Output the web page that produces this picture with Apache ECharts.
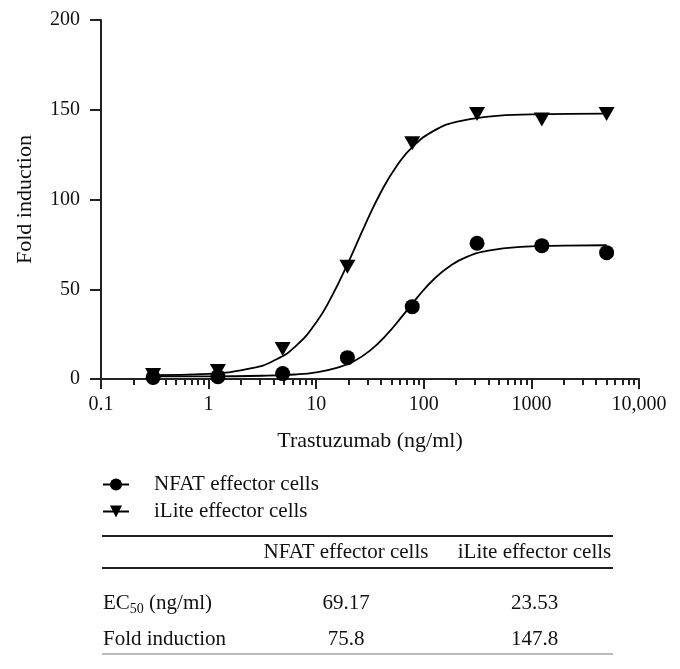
<!DOCTYPE html>
<html><head><meta charset="utf-8">
<script src="https://cdn.jsdelivr.net/npm/echarts@6/dist/echarts.min.js"></script>
<style>html,body{margin:0;padding:0;background:#fff}#chart{width:680px;height:669px}</style>
</head><body><div id="chart"></div>
<script>
// ---- data ----
const doseValues = [0.305, 1.22, 4.88, 19.5, 78.1, 312.5, 1250, 5000];
const nfatValues = [0.9, 1.3, 3.0, 11.9, 40.3, 75.6, 74.3, 70.4];
const iliteValues = [2.2, 4.5, 16.7, 62.6, 131.3, 147.6, 144.5, 147.6];

// fitted curves
const nfatCurveX = [0.3, 1, 3.16, 6.31, 10, 15.8, 22.4, 31.6, 44.7, 63.1, 89.1, 126, 178, 251, 398, 794, 2000, 5000];
const nfatCurveY = [1.5, 1.5, 1.8, 2.5, 3.7, 6.3, 9.9, 15.8, 24.4, 35.0, 46.2, 56.0, 63.2, 68.0, 71.5, 73.6, 74.3, 74.5];
const iliteCurveX = [0.3, 1, 2.51, 3.98, 6.31, 10, 14.1, 20, 28.2, 39.8, 56.2, 79.4, 126, 200, 398, 1000, 5000];
const iliteCurveY = [2.15, 2.9, 6.0, 10.0, 17.8, 31.5, 46.6, 65.3, 85.3, 103.9, 118.8, 129.6, 138.5, 143.2, 146.2, 147.4, 147.8];

const seriesNames = ['NFAT effector cells', 'iLite effector cells'];
const xMajorTicks = [0.1, 1, 10, 100, 1000, 10000];
const xTickLabels = ['0.1', '1', '10', '100', '1000', '10,000'];
const xMinorTicks = [0.2,0.3,0.4,0.5,0.6,0.7,0.8,0.9, 2,3,4,5,6,7,8,9, 20,30,40,50,60,70,80,90,
  200,300,400,500,600,700,800,900, 2000,3000,4000,5000,6000,7000,8000,9000];
const yMin = 0, yMax = 200, yStep = 50;

const tableHeaders = ['NFAT effector cells', 'iLite effector cells'];
const tableRowLabels = ['{n|EC}{s|50}{n| (ng/ml)}', 'Fold induction'];
const tableNfat = ['69.17', '75.8'];
const tableIlite = ['23.53', '147.8'];

// ---- chart ----
const FONT = '"Liberation Serif", "Times New Roman", serif';
const INK = '#111';
const TRI = 'path://M0,0L16,0L8,14Z';

const zip = (xs, ys) => xs.map((x, i) => [x, ys[i]]);

const chart = echarts.init(document.getElementById('chart'));

const tableTop = 536, tableMid = 568, tableBottom = 654, tableLeft = 102, tableRight = 613;
const colNfat = 346, colIlite = 534.5, colLabel = 103;
const headerY = 552.5, rowYs = [603, 639];

const graphics = [
  { type: 'line', shape: { x1: tableLeft, y1: tableTop, x2: tableRight, y2: tableTop }, style: { stroke: '#222', lineWidth: 2 } },
  { type: 'line', shape: { x1: tableLeft, y1: tableMid, x2: tableRight, y2: tableMid }, style: { stroke: '#222', lineWidth: 2 } },
  { type: 'line', shape: { x1: tableLeft, y1: tableBottom, x2: tableRight, y2: tableBottom }, style: { stroke: '#777', lineWidth: 1 } },
  { type: 'text', x: colNfat, y: headerY, style: { text: tableHeaders[0], fontFamily: FONT, fontSize: 21, fill: INK, align: 'center', verticalAlign: 'middle' } },
  { type: 'text', x: colIlite, y: headerY, style: { text: tableHeaders[1], fontFamily: FONT, fontSize: 21, fill: INK, align: 'center', verticalAlign: 'middle' } }
];
tableRowLabels.forEach((lab, i) => {
  graphics.push({ type: 'text', x: colLabel, y: rowYs[i], style: {
    text: lab, fontFamily: FONT, fontSize: 21, fill: INK, align: 'left', verticalAlign: 'middle',
    rich: { n: { fontFamily: FONT, fontSize: 21, fill: INK }, s: { fontFamily: FONT, fontSize: 14, fill: INK, padding: [12, 0, 0, 0] } }
  } });
  graphics.push({ type: 'text', x: colNfat, y: rowYs[i], style: { text: tableNfat[i], fontFamily: FONT, fontSize: 21, fill: INK, align: 'center', verticalAlign: 'middle' } });
  graphics.push({ type: 'text', x: colIlite, y: rowYs[i], style: { text: tableIlite[i], fontFamily: FONT, fontSize: 21, fill: INK, align: 'center', verticalAlign: 'middle' } });
});

chart.setOption({
  animation: false,
  backgroundColor: '#fff',
  textStyle: { fontFamily: FONT, color: INK },
  grid: { left: 101, right: 41, top: 20, bottom: 290, containLabel: false },
  legend: {
    orient: 'vertical', left: 102, top: 474, padding: 0, itemGap: 6, itemWidth: 26, itemHeight: 15,
    data: seriesNames,
    textStyle: { fontFamily: FONT, fontSize: 21, color: INK, padding: [0, 0, 0, 20] }
  },
  xAxis: [
    {
      type: 'log', logBase: 10, min: 0.1, max: 10000, position: 'bottom',
      name: 'Trastuzumab (ng/ml)', nameLocation: 'middle', nameGap: 51,
      nameTextStyle: { fontFamily: FONT, fontSize: 22, color: INK },
      axisLine: { show: true, lineStyle: { color: '#222', width: 2 } },
      axisTick: { show: true, length: 10, lineStyle: { color: '#222', width: 2 }, customValues: xMajorTicks },
      axisLabel: { fontFamily: FONT, fontSize: 20, color: INK, margin: 16, customValues: xMajorTicks,
        formatter: v => { const i = xMajorTicks.findIndex(t => Math.abs(t - v) / t < 1e-6); return i >= 0 ? xTickLabels[i] : ''; } },
      splitLine: { show: false }, minorTick: { show: false }
    },
    {
      type: 'log', logBase: 10, min: 0.1, max: 10000, position: 'bottom', offset: 0,
      axisLine: { show: false },
      axisTick: { show: true, length: 6, lineStyle: { color: '#222', width: 2 }, customValues: xMinorTicks },
      axisLabel: { show: false },
      splitLine: { show: false }
    }
  ],
  yAxis: {
    type: 'value', min: yMin, max: yMax, interval: yStep,
    name: 'Fold induction', nameLocation: 'middle', nameGap: 65,
    nameTextStyle: { fontFamily: FONT, fontSize: 22, color: INK },
    axisLine: { show: true, lineStyle: { color: '#222', width: 2 } },
    axisTick: { show: true, length: 11, lineStyle: { color: '#222', width: 2 } },
    axisLabel: { fontFamily: FONT, fontSize: 20, color: INK, margin: 21 },
    splitLine: { show: false }
  },
  series: [
    { name: seriesNames[0], type: 'line', xAxisIndex: 0, data: zip(nfatCurveX, nfatCurveY), smooth: true,
      symbol: 'circle', showSymbol: false, color: '#000', itemStyle: { color: '#000', opacity: 1 },
      lineStyle: { color: '#000', width: 1.8 }, z: 3 },
    { name: seriesNames[1], type: 'line', xAxisIndex: 0, data: zip(iliteCurveX, iliteCurveY), smooth: true,
      symbol: TRI, showSymbol: false, color: '#000', itemStyle: { color: '#000', opacity: 1 },
      lineStyle: { color: '#000', width: 1.8 }, z: 3 },
    { name: 'NFAT points', type: 'scatter', xAxisIndex: 0, data: zip(doseValues, nfatValues),
      symbol: 'circle', symbolSize: 15, itemStyle: { color: '#000', opacity: 1 }, z: 4 },
    { name: 'iLite points', type: 'scatter', xAxisIndex: 0, data: zip(doseValues, iliteValues),
      symbol: TRI, symbolSize: [16, 14], itemStyle: { color: '#000', opacity: 1 }, z: 4 }
  ],
  graphic: graphics
});
</script>
</body></html>
